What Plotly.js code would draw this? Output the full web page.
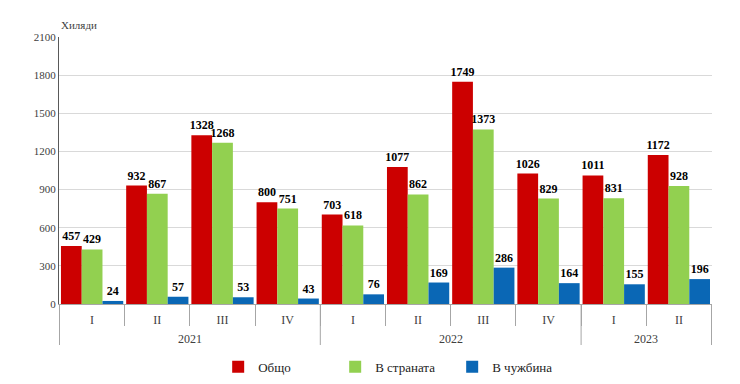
<!DOCTYPE html>
<html>
<head>
<meta charset="utf-8">
<script src="https://cdn.plot.ly/plotly-3.0.1.min.js"></script>
<style>html,body{margin:0;padding:0;background:#fff;}#chart{width:740px;height:384px;}</style>
</head>
<body>
<div id="chart"></div>
<script>
var years = ["2021","2021","2021","2021","2022","2022","2022","2022","2023","2023"];
var quarters = ["I","II","III","IV","I","II","III","IV","I","II"];
var total = [457, 932, 1328, 800, 703, 1077, 1749, 1026, 1011, 1172];
var domestic = [429, 867, 1268, 751, 618, 862, 1373, 829, 831, 928];
var abroad = [24, 57, 53, 43, 76, 169, 286, 164, 155, 196];
var seriesNames = ["Общо", "В страната", "В чужбина"];
var yTicks = [0, 300, 600, 900, 1200, 1500, 1800, 2100];

var serif = "Liberation Serif, Times New Roman, serif";
var colors = ["#cc0000", "#92d050", "#0a67b5"];
var axisGray = "#a6a6a6";
var vals = [total, domestic, abroad];
var cats = years.map(function(y, i) { return y + " " + quarters[i]; });

var traces = vals.map(function(v, i) {
  return {
    type: "bar",
    name: seriesNames[i],
    x: cats,
    y: v,
    marker: {color: colors[i], line: {width: 0}},
    text: v.map(String),
    textposition: "outside",
    constraintext: "none",
    cliponaxis: false,
    textfont: {family: serif, size: 12, color: "#000", weight: "bold"},
    hoverinfo: "skip"
  };
});

// year groups: label at the middle of each group, dividers at group edges
var plotH = 384 - 37 - 80;
var yearLabelY = -35 / plotH;
var dividerY = -41 / plotH;
var annotations = [{
  text: "Хиляди", xref: "paper", yref: "paper", x: 0, y: 1, xanchor: "left", yanchor: "bottom",
  yshift: 4, showarrow: false, font: {family: serif, size: 11, color: "#404040"}
}];
var shapes = [];
var start = 0;
for (var i = 1; i <= years.length; i++) {
  if (i === years.length || years[i] !== years[start]) {
    annotations.push({
      text: years[start], xref: "x", yref: "paper", x: (start + i - 1) / 2, y: yearLabelY,
      xanchor: "center", yanchor: "middle", showarrow: false,
      font: {family: serif, size: 12, color: "#404040"}
    });
    if (start === 0) {
      shapes.push({type: "line", xref: "x", yref: "paper", x0: start - 0.5, x1: start - 0.5,
                   y0: 0, y1: dividerY, line: {color: axisGray, width: 1}});
    }
    shapes.push({type: "line", xref: "x", yref: "paper", x0: i - 0.5, x1: i - 0.5,
                 y0: 0, y1: dividerY, line: {color: axisGray, width: 1}});
    start = i;
  }
}

var layout = {
  width: 740, height: 384,
  margin: {l: 59, r: 28, t: 37, b: 80, autoexpand: false},
  paper_bgcolor: "#fff", plot_bgcolor: "#fff",
  barmode: "group", bargap: 0.045, bargroupgap: 0,
  font: {family: serif, size: 11, color: "#404040"},
  showlegend: true,
  legend: {orientation: "h", xref: "container", yref: "container", x: 0.532, xanchor: "center",
           y: 0.045, yanchor: "middle", entrywidth: 72, entrywidthmode: "pixels",
           font: {family: serif, size: 13, color: "#222"}, itemwidth: 30},
  xaxis: {
    type: "category", automargin: false,
    tickvals: cats, ticktext: quarters,
    showline: true, linecolor: axisGray, linewidth: 1,
    ticks: "outside", tickson: "boundaries", ticklen: 21, tickcolor: axisGray, tickwidth: 1,
    ticklabelstandoff: 5,
    tickfont: {family: serif, size: 12, color: "#404040"},
    showgrid: false, zeroline: false, fixedrange: true
  },
  yaxis: {
    range: [0, 2100], tickvals: yTicks, ticktext: yTicks.map(String), automargin: false,
    showgrid: true, gridcolor: "#d9d9d9", gridwidth: 1,
    showline: true, linecolor: "#595959", linewidth: 1,
    zeroline: false, ticks: "", ticklen: 0,
    tickfont: {family: serif, size: 11, color: "#404040"}, fixedrange: true
  },
  shapes: shapes,
  annotations: annotations
};

Plotly.newPlot("chart", traces, layout, {displayModeBar: false, staticPlot: true});
</script>
</body>
</html>
